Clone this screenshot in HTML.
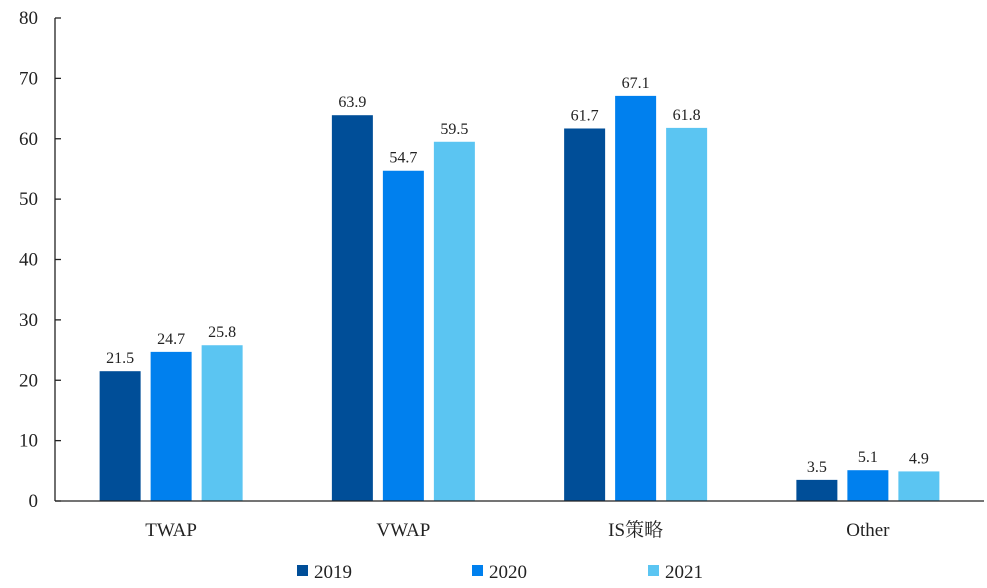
<!DOCTYPE html>
<html><head><meta charset="utf-8"><style>
body{margin:0;background:#fff;}
svg{display:block;font-family:"Liberation Serif","Noto Serif CJK SC",serif;}
</style></head><body>
<svg id="chart" width="987" height="588" viewBox="0 0 987 588"></svg>
<script>
const categories = ["TWAP","VWAP","IS策略","Other"];
const seriesNames = ["2019","2020","2021"];
const s2019 = [21.5,63.9,61.7,3.5];
const s2020 = [24.7,54.7,67.1,5.1];
const s2021 = [25.8,59.5,61.8,4.9];
const yTicks = [0,10,20,30,40,50,60,70,80];
const colors = ["#004E98","#0080EE","#5BC5F2"];
const series = [s2019,s2020,s2021];
const NS="http://www.w3.org/2000/svg";
const svg=document.getElementById('chart');
const x0=55,x1=984,y0=501,yTop=18,yMax=80;
const y=v=>y0-(v/yMax)*(y0-yTop);
const groupW=(x1-x0)/categories.length;
const cx=i=>x0+groupW*(i+0.5);
const barW=41,pitch=51;
function el(tag,attrs){const e=document.createElementNS(NS,tag);for(const k in attrs)e.setAttribute(k,attrs[k]);svg.appendChild(e);return e;}
// bars
series.forEach((s,si)=>{s.forEach((v,ci)=>{
  const bx=cx(ci)+(si-1)*pitch-barW/2;
  const r=el('rect',{x:bx,y:y(v),width:barW,height:y0-y(v),fill:colors[si]});
  
  
  const t=el('text',{x:bx+barW/2,y:y(v)-8,'text-anchor':'middle','font-size':16,fill:'#222'});
  t.textContent=v.toFixed(1);
  
  
});});
// axes
const ya=el('line',{x1:x0,y1:yTop,x2:x0,y2:y0,stroke:'#222','stroke-width':1.3});


const xa=el('line',{x1:x0,y1:y0,x2:x1,y2:y0,stroke:'#222','stroke-width':1.3});


yTicks.forEach(v=>{
  el('line',{x1:x0,y1:y(v),x2:x0+6,y2:y(v),stroke:'#222','stroke-width':1.3});
  const t=el('text',{x:38,y:y(v)+6,'text-anchor':'end','font-size':19,fill:'#222'});
  t.textContent=v;
  
  
});
categories.forEach((c,i)=>{
  const t=el('text',{x:cx(i),y:536,'text-anchor':'middle','font-size':19,fill:'#222'});
  t.textContent=c;
  
  
});
// legend
const lx=[297,472,648];
seriesNames.forEach((n,i)=>{
  const r=el('rect',{x:lx[i],y:565,width:11,height:11,fill:colors[i]});
  
  
  const t=el('text',{x:lx[i]+17,y:578,'font-size':19,fill:'#222'});
  t.textContent=n;
  
  
});
</script>
</body></html>
